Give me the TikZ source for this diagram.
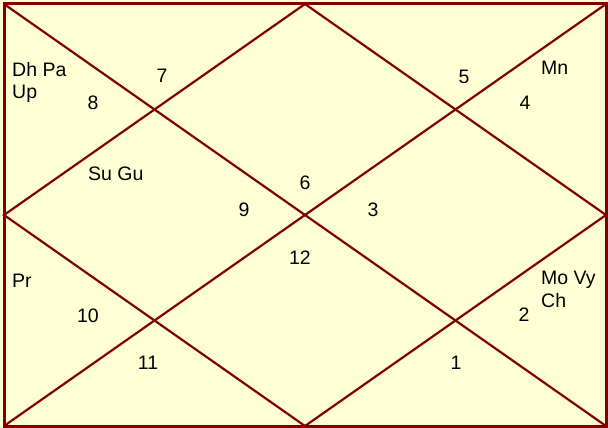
\documentclass[tikz,border=0pt]{standalone}
\usepackage{fontspec}
\setmainfont{Liberation Sans}
\usepackage{xcolor}
\definecolor{chartline}{RGB}{128,0,0}
\definecolor{chartbg}{RGB}{255,255,213}

\tikzset{
    house/.style={inner sep=0pt, font=\fontsize{19.5}{22.5}\selectfont},
    planets/.style={house, anchor=north west, align=left},
    chart/.style={draw=chartline, line width=2.2pt}
}

\begin{document}
\begin{tikzpicture}[x=1pt,y=-1pt]
    \useasboundingbox (0,0) rectangle (608,428);
    \fill[chartbg] (0,0) rectangle (608,428);
    % corners and midpoints
    \coordinate (tl) at (4,4);
    \coordinate (tr) at (606,4);
    \coordinate (bl) at (4,426);
    \coordinate (br) at (606,426);
    \coordinate (tm) at (305,4);
    \coordinate (bm) at (305,426);
    \coordinate (lm) at (4,215);
    \coordinate (rm) at (606,215);
    \draw[chart, line width=3pt] (tl) rectangle (br);
    \draw[chart] (tl)--(br) (tr)--(bl);
    \draw[chart] (tm)--(rm)--(bm)--(lm)--cycle;
    % house numbers
    \node[house] (h1) at (456,363) {1};
    \node[house] (h2) at (524,315) {2};
    \node[house] (h3) at (373,210) {3};
    \node[house] (h4) at (525,103) {4};
    \node[house] (h5) at (464,77) {5};
    \node[house] (h6) at (305,183) {6};
    \node[house] (h7) at (162,76) {7};
    \node[house] (h8) at (93,103) {8};
    \node[house] (h9) at (244,210) {9};
    \node[house] (h10) at (88,316) {10};
    \node[house] (h11) at (148,363) {11};
    \node[house] (h12) at (300,258) {12};
    % planets
    \node[planets] (p8) at (12,62) {Dh Pa\\Up};
    \node[planets] (p4) at (541,61) {Mn};
    \node[planets] (p9) at (88,167) {Su Gu};
    \node[planets] (p10) at (12,274) {Pr};
    \node[planets] (p2) at (541,271) {Mo Vy\\Ch};
\end{tikzpicture}
\end{document}
